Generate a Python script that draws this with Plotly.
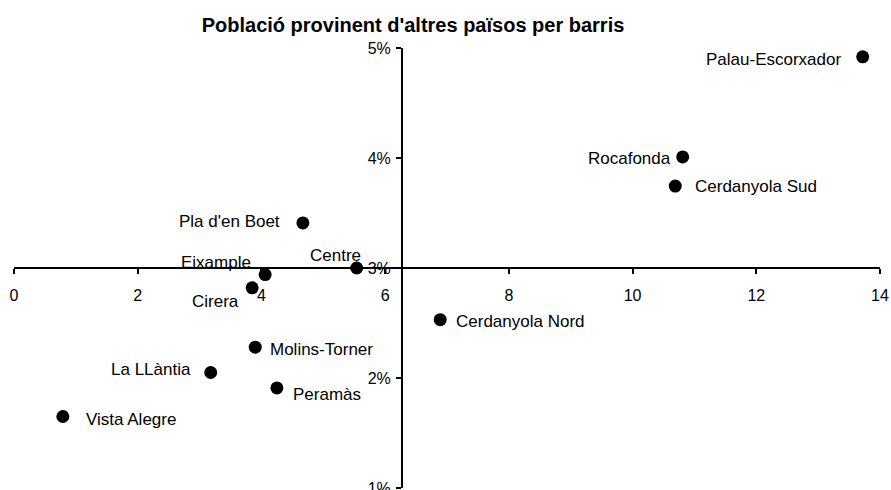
import plotly.graph_objects as go

barris = ["Palau-Escorxador", "Rocafonda", "Cerdanyola Sud", "Pla d'en Boet", "Centre",
          "Eixample", "Cirera", "Cerdanyola Nord", "Molins-Torner", "La LLàntia",
          "Peramàs", "Vista Alegre"]
x_vals = [13.72, 10.81, 10.69, 4.67, 5.54, 4.06, 3.85, 6.89, 3.90, 3.18, 4.25, 0.79]
y_vals = [0.0492, 0.0401, 0.03745, 0.0341, 0.0300, 0.0294, 0.0282, 0.0253, 0.0228, 0.0205, 0.0191, 0.0165]
x_ticks = [0, 2, 4, 6, 8, 10, 12, 14]
y_ticks = [0.01, 0.02, 0.03, 0.04, 0.05]

# label placement: (xanchor, xshift, yshift)
label_style = {
    "Palau-Escorxador": ("right", -20, -3),
    "Rocafonda": ("right", -10, -2),
    "Cerdanyola Sud": ("left", 18, 0),
    "Pla d'en Boet": ("right", -21, 1),
    "Centre": ("right", 6, 13),
    "Eixample": ("right", -12, 12),
    "Cirera": ("right", -11, -14),
    "Cerdanyola Nord": ("left", 14, -2),
    "Molins-Torner": ("left", 13, -2),
    "La LLàntia": ("right", -18, 3),
    "Peramàs": ("left", 14, -7),
    "Vista Alegre": ("left", 21, -3),
}

FONT = "Liberation Sans, Arial, sans-serif"

fig = go.Figure()
fig.add_trace(go.Scatter(
    x=x_vals, y=y_vals, mode="markers",
    marker=dict(size=13, color="black"),
    hoverinfo="skip", showlegend=False,
))

for name, xv, yv in zip(barris, x_vals, y_vals):
    xa, xs, ys = label_style[name]
    fig.add_annotation(x=xv, y=yv, text=name, showarrow=False,
                       xanchor=xa, yanchor="middle", xshift=xs, yshift=ys,
                       font=dict(family=FONT, size=17, color="black"))

fig.update_layout(
    width=891, height=490,
    margin=dict(l=14, r=11, t=48, b=2),
    paper_bgcolor="white", plot_bgcolor="white",
    font=dict(family=FONT, size=16, color="black"),
    title=dict(text="<b>Població provinent d'altres països per barris</b>",
               x=413 / 891, xref="container", xanchor="center",
               y=1 - 25 / 490, yref="container", yanchor="middle",
               font=dict(family=FONT, size=20, color="black")),
    xaxis=dict(range=[0, 14], tickvals=x_ticks, ticktext=[str(t) for t in x_ticks],
               showgrid=False, zeroline=False, showline=True, linecolor="black", linewidth=2,
               ticks="outside", ticklen=5, tickwidth=2, tickcolor="black",
               anchor="free", position=0.5, ticklabelstandoff=8, automargin=False,
               ticklabeloverflow="allow",
               tickfont=dict(family=FONT, size=16, color="black")),
    yaxis=dict(range=[0.01, 0.05], tickvals=y_ticks, tickformat=".0%",
               showgrid=False, zeroline=False, showline=True, linecolor="black", linewidth=2,
               ticks="outside", ticklen=5, tickwidth=2, tickcolor="black",
               anchor="free", position=(402 - 14) / 866, ticklabelstandoff=2, automargin=False,
               ticklabeloverflow="allow",
               tickfont=dict(family=FONT, size=16, color="black")),
)

fig.write_html("out.html", config={"displayModeBar": False},
               post_script="document.body.style.margin='0';document.body.style.overflow='hidden';")
